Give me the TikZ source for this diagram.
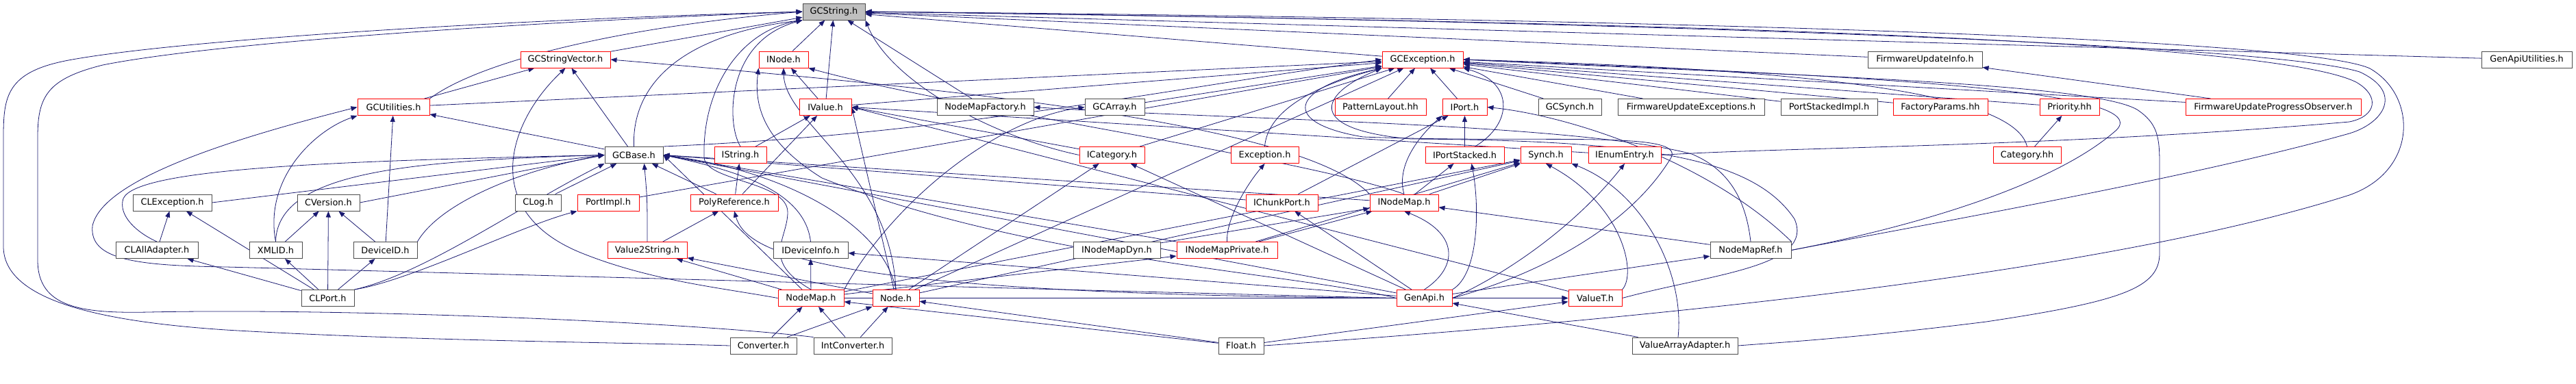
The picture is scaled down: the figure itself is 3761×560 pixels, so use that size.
\documentclass[tikz,border=0pt]{standalone}
\usepackage{fontspec}
\setmainfont{DejaVu Sans}
\usepackage{xcolor}
\usetikzlibrary{arrows.meta}
\pgfdeclarelayer{back}
\pgfsetlayers{back,main}
\definecolor{edgeblue}{HTML}{191970}
\definecolor{boxgray}{HTML}{BFBFBF}
\tikzset{
  hdr/.style={draw=black!70, fill=white, line width=1pt, minimum height=24pt,
    inner sep=0pt, font=\fontsize{12.9}{15}\selectfont},
  hdrred/.style={hdr, draw=red},
  dep/.style={edgeblue, line width=0.8pt, arrows={Triangle[length=9pt,width=7pt]-}}
}

\begin{document}
\begin{tikzpicture}[x=1pt, y=-1pt]
    \useasboundingbox (0,0) rectangle (3761,560);

    % row 0
    \node[hdr, fill=boxgray, minimum width=91pt] (gcstring) at (1217.5,17) {GCString.h};
    % row 1
    \node[hdrred, minimum width=131pt] (gcstrvec) at (825.5,87) {GCStringVector.h};
    \node[hdrred, minimum width=72pt] (inode) at (1144,87) {INode.h};
    \node[hdrred, minimum width=118pt] (gcexc) at (2077,87) {GCException.h};
    \node[hdr, minimum width=167pt] (fwinfo) at (2810.5,87) {FirmwareUpdateInfo.h};
    \node[hdr, minimum width=132pt] (gautil) at (3689,87) {GenApiUtilities.h};
    % row 2
    \node[hdrred, minimum width=105pt] (gcutil) at (574.5,156.5) {GCUtilities.h};
    \node[hdrred, minimum width=76pt] (ivalue) at (1205,156.5) {IValue.h};
    \node[hdr, minimum width=141pt] (nmfact) at (1438.5,156.5) {NodeMapFactory.h};
    \node[hdr, minimum width=87pt] (gcarray) at (1627.5,156.5) {GCArray.h};
    \node[hdrred, minimum width=133pt] (patlay) at (2015.5,156.5) {PatternLayout.hh};
    \node[hdrred, minimum width=65pt] (iport) at (2138.5,156.5) {IPort.h};
    \node[hdr, minimum width=92pt] (gcsynch) at (2292,156.5) {GCSynch.h};
    \node[hdr, minimum width=214pt] (fwexc) at (2469,156.5) {FirmwareUpdateExceptions.h};
    \node[hdr, minimum width=141pt] (pstimpl) at (2670.5,156.5) {PortStackedImpl.h};
    \node[hdrred, minimum width=138pt] (facpar) at (2833,156.5) {FactoryParams.hh};
    \node[hdrred, minimum width=87pt] (prio) at (3021.5,156.5) {Priority.hh};
    \node[hdrred, minimum width=256pt] (fwobs) at (3319,156.5) {FirmwareUpdateProgressObserver.h};
    % row 3
    \node[hdr, minimum width=85pt] (gcbase) at (925.5,226.5) {GCBase.h};
    \node[hdrred, minimum width=76pt] (istring) at (1081,226.5) {IString.h};
    \node[hdrred, minimum width=95pt] (icat) at (1623.5,226.5) {ICategory.h};
    \node[hdrred, minimum width=99pt] (exc) at (1846.5,226.5) {Exception.h};
    \node[hdrred, minimum width=115pt] (ipstack) at (2138.5,226.5) {IPortStacked.h};
    \node[hdrred, minimum width=74pt] (synch) at (2257,226.5) {Synch.h};
    \node[hdrred, minimum width=106pt] (ienum) at (2372,226.5) {IEnumEntry.h};
    \node[hdrred, minimum width=99pt] (cat) at (2959.5,226.5) {Category.hh};
    % row 4
    \node[hdr, minimum width=115pt] (clexc) at (251.5,296) {CLException.h};
    \node[hdr, minimum width=91pt] (cver) at (479.5,296) {CVersion.h};
    \node[hdr, minimum width=67pt] (clog) at (785.5,296) {CLog.h};
    \node[hdrred, minimum width=90pt] (portimpl) at (888,296) {PortImpl.h};
    \node[hdrred, minimum width=128pt] (polyref) at (1072,296) {PolyReference.h};
    \node[hdrred, minimum width=105pt] (ichunk) at (1871.5,296) {IChunkPort.h};
    \node[hdrred, minimum width=100pt] (inodemap) at (2050,296) {INodeMap.h};
    % row 5
    \node[hdr, minimum width=120pt] (claa) at (229,365.5) {CLAllAdapter.h};
    \node[hdr, minimum width=77pt] (xmlid) at (402.5,365.5) {XMLID.h};
    \node[hdr, minimum width=93pt] (devid) at (562.5,365.5) {DeviceID.h};
    \node[hdrred, minimum width=116pt] (v2s) at (945,365.5) {Value2String.h};
    \node[hdr, minimum width=109pt] (idevinfo) at (1183.5,365.5) {IDeviceInfo.h};
    \node[hdr, minimum width=127pt] (inmdyn) at (1630.5,365.5) {INodeMapDyn.h};
    \node[hdrred, minimum width=147pt] (inmpriv) at (1791.5,365.5) {INodeMapPrivate.h};
    \node[hdr, minimum width=118pt] (nmref) at (2556,365.5) {NodeMapRef.h};
    % row 6
    \node[hdr, minimum width=77pt] (clport) at (478.5,435.5) {CLPort.h};
    \node[hdrred, minimum width=96pt] (nodemap) at (1184,435.5) {NodeMap.h};
    \node[hdrred, minimum width=68pt] (node) at (1308,435.5) {Node.h};
    \node[hdrred, minimum width=81pt] (genapi) at (2079.5,435.5) {GenApi.h};
    \node[hdrred, minimum width=78pt] (valuet) at (2329,435.5) {ValueT.h};
    % row 7
    \node[hdr, minimum width=97pt] (conv) at (1114.5,505) {Converter.h};
    \node[hdr, minimum width=114pt] (intconv) at (1245,505) {IntConverter.h};
    \node[hdr, minimum width=66pt] (float) at (1812,505) {Float.h};
    \node[hdr, minimum width=154pt] (vaa) at (2460,505) {ValueArrayAdapter.h};

    \begin{pgfonlayer}{back}
    % GCString.h
    \draw[dep] (gcstring) -- (gcstrvec);
    \draw[dep] (gcstring) -- (inode);
    \draw[dep] (gcstring) -- (ivalue);
    \draw[dep] (gcstring) -- (gcexc);
    \draw[dep] (gcstring) -- (fwinfo);
    \draw[dep] (gcstring) -- (gautil);
    \draw[dep] (gcstring) -- (nmfact);
    \draw[dep] (gcstring.west) .. controls (900,40) and (700,90) .. (gcutil.north east);
    \draw[dep] (gcstring.south west) .. controls (1000,50) and (922,120) .. (gcbase.north);
    \draw[dep] (gcstring.south west) .. controls (1060,60) and (1060,180) .. (istring.north);
    \draw[dep] (gcstring.south east) .. controls (1300,120) and (1450,200) .. (icat.west);
    \draw[dep] (gcstring.south west) .. controls (1080,45) and (1025,130) .. (1028,230)
        .. controls (1030,265) and (1150,265) .. (1150,310)
        .. controls (1150,350) and (1110,380) .. (nodemap.north);
    \draw[dep] (gcstring.west) .. controls (700,30) and (250,60) .. (100,88)
        .. controls (10,105) and (5,140) .. (5,200) -- (5,360)
        .. controls (5,440) and (150,470) .. (330,482)
        .. controls (600,498) and (900,500) .. (conv.west);
    \draw[dep] (gcstring.west) .. controls (700,35) and (300,65) .. (150,95)
        .. controls (70,115) and (55,140) .. (55,200) -- (55,380)
        .. controls (55,450) and (120,458) .. (217,456)
        .. controls (500,450) and (1000,470) .. (intconv.north west);
    \draw[dep] (gcstring.east) .. controls (2200,30) and (3300,50) .. (3440,120)
        .. controls (3475,140) and (3470,170) .. (3430,178)
        .. controls (3000,215) and (2600,215) .. (ienum.east);
    \draw[dep] (gcstring.east) .. controls (2200,28) and (3300,60) .. (3445,105)
        .. controls (3510,135) and (3480,180) .. (3430,195)
        .. controls (3200,260) and (2800,330) .. (nmref.east);
    \draw[dep] (gcstring.east) .. controls (2200,25) and (3350,50) .. (3460,100)
        .. controls (3530,140) and (3530,250) .. (3430,285)
        .. controls (3100,390) and (2500,460) .. (float.east);

    % GCException.h
    \draw[dep] (gcexc) -- (gcutil);
    \draw[dep] (gcexc.west) .. controls (1700,130) and (1400,195) .. (gcbase.north east);
    \draw[dep] (gcexc) -- (portimpl);
    \draw[dep] (gcexc) -- (gcarray);
    \draw[dep] (gcexc) -- (ivalue);
    \draw[dep] (gcexc) -- (icat);
    \draw[dep] (gcexc) -- (node);
    \draw[dep] (gcexc) -- (patlay);
    \draw[dep] (gcexc) -- (iport);
    \draw[dep] (gcexc) -- (gcsynch);
    \draw[dep] (gcexc) -- (fwexc);
    \draw[dep] (gcexc) -- (pstimpl);
    \draw[dep] (gcexc) -- (facpar);
    \draw[dep] (gcexc) -- (prio);
    \draw[dep] (gcexc) -- (fwobs);
    \draw[dep] (gcexc.south west) .. controls (1900,130) and (1850,170) .. (exc.north);
    \draw[dep] (gcexc.east) .. controls (2600,100) and (2940,130) .. (cat.north);
    \draw[dep] (gcexc.south east) .. controls (2210,120) and (2210,180) .. ([xshift=15pt]ipstack.north);
    \draw[dep] (gcexc.south west) .. controls (1880,130) and (1870,180) .. (1990,200)
        .. controls (2250,210) and (2460,190) .. (2440,230)
        .. controls (2380,330) and (2250,400) .. (genapi.east);
    \draw[dep] (gcexc.south west) .. controls (1920,140) and (1910,190) .. (2060,203)
        .. controls (2400,205) and (2560,230) .. (2620,320)
        .. controls (2650,390) and (2500,400) .. (valuet.east);
    \draw[dep] (gcexc.east) .. controls (2700,110) and (3150,130) .. (3090,190)
        .. controls (3000,270) and (2800,330) .. (nmref.east);
    \draw[dep] (gcexc.east) .. controls (2600,110) and (3050,120) .. (3120,160)
        .. controls (3150,180) and (3153,200) .. (3153,240) -- (3153,370)
        .. controls (3153,420) and (3100,440) .. (2900,470)
        .. controls (2700,495) and (2600,500) .. (vaa.east);

    % GCStringVector.h, INode.h
    \draw[dep] (gcstrvec) -- (gcutil);
    \draw[dep] (gcstrvec) -- (gcbase);
    \draw[dep] (gcstrvec.south) .. controls (740,180) and (700,310) .. (850,370)
        .. controls (950,410) and (1050,420) .. (nodemap.west);
    \draw[dep] (gcstrvec.east) .. controls (1400,130) and (1900,180) .. (inodemap.north west);
    \draw[dep] (inode) -- (ivalue);
    \draw[dep] (inode.south) .. controls (1145,180) and (1300,250) .. (node.north);
    \draw[dep] (inode.south west) .. controls (1100,160) and (1120,210) .. (1200,260)
        .. controls (1500,380) and (1900,400) .. (genapi.west);
    \draw[dep] (inode.south east) .. controls (1400,160) and (1900,230) .. (inodemap.north);

    % GCUtilities.h
    \draw[dep] (gcutil) -- (gcbase);
    \draw[dep] (gcutil.south west) .. controls (460,190) and (385,260) .. (xmlid.north);
    \draw[dep] (gcutil) -- (devid);
    \draw[dep] (gcutil.west) .. controls (350,200) and (150,260) .. (135,330)
        .. controls (130,380) and (200,388) .. (330,390)
        .. controls (900,405) and (1600,425) .. (genapi.west);

    % IValue.h and row 2
    \draw[dep] (ivalue) -- (istring);
    \draw[dep] (ivalue) -- (polyref);
    \draw[dep] (ivalue.east) -- (icat);
    \draw[dep] (ivalue.east) -- (ienum);
    \draw[dep] (ivalue.east) -- (valuet);
    \draw[dep] (ivalue.east) -- (node);
    \draw[dep] (nmfact.east) .. controls (1800,175) and (2300,180) .. (2470,225)
        .. controls (2530,250) and (2550,300) .. (nmref.north);
    \draw[dep] (gcarray.west) .. controls (1450,175) and (1300,300) .. (nodemap.north east);
    \draw[dep] (iport) -- (ipstack);
    \draw[dep] (iport) -- (ichunk);
    \draw[dep] (iport.south west) .. controls (2060,210) and (2040,250) .. (inodemap.north);
    \draw[dep] (iport.east) .. controls (2300,170) and (2500,240) .. (nmref.north east);
    \draw[dep] (prio) -- (cat);
    \draw[dep] (fwinfo) -- (fwobs);

    % GCBase.h
    \draw[dep] (gcbase.west) -- (clexc.east);
    \draw[dep] (gcbase.west) -- (cver.east);
    \draw[dep] (gcbase) -- (clog);
    \draw[dep] (gcbase.west) .. controls (500,235) and (200,245) .. (180,290)
        .. controls (172,315) and (200,340) .. (claa.north);
    \draw[dep] (gcbase.west) .. controls (600,235) and (405,250) .. (xmlid.north);
    \draw[dep] (gcbase.west) .. controls (750,250) and (640,300) .. (devid.north east);
    \draw[dep] (gcbase.south west) .. controls (760,300) and (620,400) .. (clport.north east);
    \draw[dep] ([xshift=15pt]gcbase.south) .. controls (945,290) .. (v2s.north);
    \draw[dep] (gcbase) -- (polyref);
    \draw[dep] (gcbase.east) .. controls (1080,250) and (1175,280) .. (idevinfo.north);
    \draw[dep] (gcbase.east) -- (inodemap);
    \draw[dep] (gcbase.east) -- (ichunk);
    \draw[dep] (gcbase.east) -- (inmpriv);
    \draw[dep] (gcbase.east) -- (genapi);
    \draw[dep] (gcbase.east) -- (nodemap);
    \draw[dep] (gcbase.east) .. controls (1150,250) and (1290,330) .. (node.north);

    % row 3
    \draw[dep] (istring) -- (polyref);
    \draw[dep] (icat) -- (node);
    \draw[dep] (icat) -- (genapi);
    \draw[dep] (exc.south) .. controls (1820,270) and (1790,320) .. (inmpriv.north);
    \draw[dep] (ipstack) -- (inodemap);
    \draw[dep] ([xshift=10pt]ipstack.south) .. controls (2160,300) and (2160,400) .. (genapi.north east);
    \draw[dep] (synch) -- (inodemap);
    \draw[dep] (synch) -- (nodemap);
    \draw[dep] (synch) -- (node);
    \draw[dep] (synch) -- (inmpriv);
    \draw[dep] (synch.south) .. controls (2370,300) and (2390,400) .. (valuet.north east);
    \draw[dep] (synch.south east) .. controls (2400,280) and (2460,400) .. ([xshift=-10pt]vaa.north);
    \draw[dep] (ienum.south) .. controls (2300,330) and (2200,400) .. (genapi.east);

    % row 4
    \draw[dep] (clexc) -- (claa);
    \draw[dep] (clexc) -- (clport);
    \draw[dep] (cver) -- (xmlid);
    \draw[dep] (cver) -- (clport);
    \draw[dep] (cver) -- (devid);
    \draw[dep] (portimpl.south west) .. controls (760,330) and (600,410) .. (clport.north east);
    \draw[dep] (polyref) -- (v2s);
    \draw[dep] (polyref.south) .. controls (1090,370) and (1200,430) .. (genapi.west);
    \draw[dep] (ichunk) -- (genapi);
    \draw[dep] (inodemap) -- (inmdyn);
    \draw[dep] (inodemap) -- (inmpriv);
    \draw[dep] (inodemap) -- (nmref);
    \draw[dep] (inodemap.south) .. controls (2130,340) and (2130,390) .. (genapi.north);

    % row 5
    \draw[dep] (claa) -- (clport);
    \draw[dep] (xmlid) -- (clport);
    \draw[dep] (devid) -- (clport);
    \draw[dep] (v2s) -- (nodemap);
    \draw[dep] (v2s) -- (node);
    \draw[dep] (idevinfo) -- (nodemap);
    \draw[dep] (idevinfo) -- (genapi);
    \draw[dep] (inmpriv) -- (nodemap);
    \draw[dep] (nmref) -- (genapi);

    % row 6
    \draw[dep] (nodemap) -- (conv);
    \draw[dep] (nodemap) -- (intconv);
    \draw[dep] (nodemap) -- (float);
    \draw[dep] (node) -- (conv);
    \draw[dep] (node) -- (intconv);
    \draw[dep] (node) -- (float);
    \draw[dep] (genapi) -- (vaa);
    \draw[dep] (valuet) -- (node);
    \draw[dep] (valuet) -- (nodemap);
    \draw[dep] (valuet) -- (float);
    \end{pgfonlayer}
\end{tikzpicture}
\end{document}
